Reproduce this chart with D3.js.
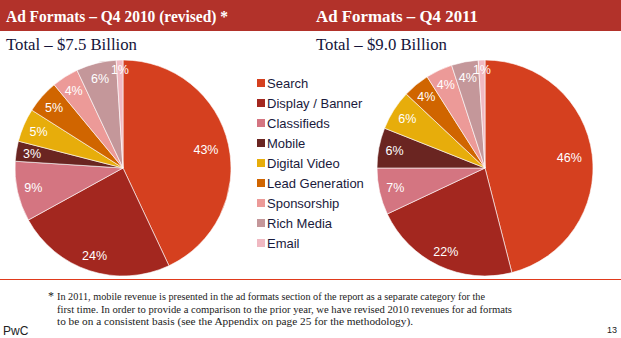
<!DOCTYPE html>
<html>
<head>
<meta charset="utf-8">
<script src="https://cdn.jsdelivr.net/npm/d3@7"></script>
<style>
body { margin: 0; background: #fff; }
</style>
</head>
<body>
<div id="chart"></div>
<script>
var categories = ["Search", "Display / Banner", "Classifieds", "Mobile", "Digital Video", "Lead Generation", "Sponsorship", "Rich Media", "Email"]
var values2010 = [43, 24, 9, 3, 5, 5, 4, 6, 1]
var values2011 = [46, 22, 7, 6, 6, 4, 4, 4, 1]
var colors = ["#d5401f", "#a3271f", "#d47581", "#6a2521", "#e7ad0b", "#d06500", "#ec9a98", "#c4979a", "#f0b9c2"]
var titles = ["Ad Formats \u2013 Q4 2010 (revised) *", "Ad Formats \u2013 Q4 2011"]
var totals = ["Total \u2013 $7.5 Billion", "Total \u2013 $9.0 Billion"]
var footnote = [
    "In 2011, mobile revenue is presented in the ad formats section of the report as a separate category for the",
    "first time. In order to provide a comparison to the prior year, we have revised 2010 revenues for ad formats",
    "to be on a consistent basis (see the Appendix on page 25 for the methodology)."
]

var width = 621
var height = 338
var svg = d3.select("#chart").append("svg").attr("width", width).attr("height", height)
var serif = "'Liberation Serif', 'DejaVu Serif', serif"
var sans = "'Liberation Sans', Arial, sans-serif"

// header bar
svg.append("rect").attr("x", 0).attr("y", 0).attr("width", width).attr("height", 31).attr("fill", "#b2322a")
var titleX = [6, 316]
var titleW = [222, 162]
titles.forEach(function(t, i) {
    svg.append("text").attr("x", titleX[i]).attr("y", 22).text(t)
        .attr("font-family", serif).attr("font-weight", "bold").attr("font-size", 17)
        .attr("textLength", titleW[i]).attr("lengthAdjust", "spacingAndGlyphs")
        .attr("fill", "#fff")
    svg.append("text").attr("x", titleX[i]).attr("y", 50).text(totals[i])
        .attr("font-family", serif).attr("font-size", 16)
        .attr("textLength", 131).attr("lengthAdjust", "spacingAndGlyphs")
        .attr("fill", "#14143a")
})

var pie = d3.pie().sort(null).value(function(d) { return d })
var arc = d3.arc().innerRadius(0).outerRadius(108)

function labelRadius(v) {
    if (v >= 40) return 85
    if (v < 2) return 98
    return 92
}

function drawPie(values, cx, cy) {
    var g = svg.append("g").attr("transform", "translate(" + cx + "," + cy + ")")
    var arcs = pie(values)
    g.selectAll("path").data(arcs).enter().append("path")
        .attr("d", arc)
        .attr("fill", function(d, i) { return colors[i] })
        .attr("stroke", "#fff").attr("stroke-width", 0.6)
    g.selectAll("text").data(arcs).enter().append("text")
        .attr("transform", function(d) {
            var r = labelRadius(d.data)
            return "translate(" + d3.arc().innerRadius(r).outerRadius(r).centroid(d) + ")"
        })
        .attr("text-anchor", "middle").attr("dy", "0.35em")
        .attr("font-family", sans).attr("font-size", 12.5)
        .attr("fill", "#fff")
        .text(function(d) { return d.data + "%" })
}
drawPie(values2010, 123, 168)
drawPie(values2011, 485, 168)

// legend
var legend = svg.append("g").attr("transform", "translate(257,83)")
var rows = legend.selectAll("g").data(categories).enter().append("g")
    .attr("transform", function(d, i) { return "translate(0," + (i * 20) + ")" })
rows.append("rect").attr("x", 0).attr("y", -4).attr("width", 8).attr("height", 8)
    .attr("fill", function(d, i) { return colors[i] })
rows.append("text").attr("x", 10).attr("dy", "0.36em").text(function(d) { return d })
    .attr("font-family", sans).attr("font-size", 13).attr("fill", "#1a1a3c")

// separator
svg.append("line").attr("x1", 0).attr("x2", width).attr("y1", 279.5).attr("y2", 279.5)
    .attr("stroke", "#e03a1c").attr("stroke-width", 1)

// footnote
svg.append("text").attr("x", 48).attr("y", 300).text("*")
    .attr("font-family", serif).attr("font-size", 12).attr("fill", "#222")
var fnW = [428, 455, 356]
footnote.forEach(function(line, i) {
    svg.append("text").attr("x", 57).attr("y", 300 + i * 12.5).text(line)
        .attr("font-family", serif).attr("font-size", 11)
        .attr("textLength", fnW[i]).attr("lengthAdjust", "spacingAndGlyphs")
        .attr("fill", "#222")
})
svg.append("text").attr("x", 3).attr("y", 335).text("PwC")
    .attr("font-family", sans).attr("font-size", 12).attr("fill", "#222")
svg.append("text").attr("x", 617).attr("y", 333).attr("text-anchor", "end").text("13")
    .attr("font-family", sans).attr("font-size", 9).attr("fill", "#222")
</script>
</body>
</html>
